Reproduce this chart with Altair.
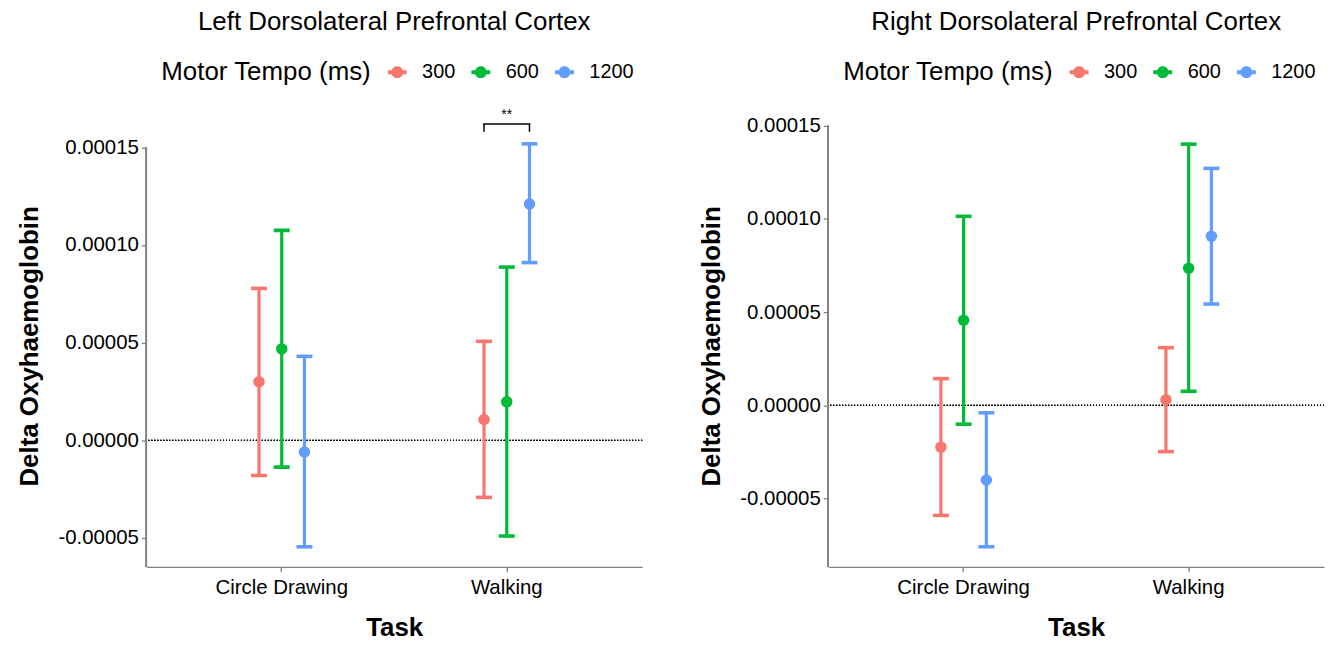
import altair as alt
import pandas as pd

tasks = ["Circle Drawing", "Walking"]
tempos = ["300", "600", "1200"]
colors = ["#F8766D", "#00BA38", "#619CFF"]

# order: task-major, tempo-minor
left_mean = [3.0e-5, 4.68e-5, -6.0e-6, 1.07e-5, 1.97e-5, 1.21e-4]
left_lo = [-1.8e-5, -1.37e-5, -5.45e-5, -2.92e-5, -4.9e-5, 9.1e-5]
left_hi = [7.78e-5, 1.075e-4, 4.3e-5, 5.07e-5, 8.87e-5, 1.518e-4]

right_mean = [-2.24e-5, 4.56e-5, -4.0e-5, 3.0e-6, 7.35e-5, 9.06e-5]
right_lo = [-5.9e-5, -1.01e-5, -7.58e-5, -2.48e-5, 7.5e-6, 5.43e-5]
right_hi = [1.43e-5, 1.013e-4, -4.0e-6, 3.09e-5, 1.40e-4, 1.27e-4]

y_ticks = [-0.00005, 0.0, 0.00005, 0.0001, 0.00015]
left_domain = [-6.48e-5, 1.615e-4]
right_domain = [-8.66e-5, 1.503e-4]

sig_task = "Walking"
sig_from, sig_mid, sig_to = "300", "600", "1200"
sig_top, sig_bottom = 1.62e-4, 1.58e-4
sig_label = "**"

FONT = "Liberation Sans"
AXIS_GREY = "#808080"
LEGEND_PATH = ("M-1,-0.21L-0.55,-0.21L-0.55,0.21L-1,0.21Z "
               "M0.55,-0.21L1,-0.21L1,0.21L0.55,0.21Z "
               "M0.63,0A0.63,0.63,0,1,1,-0.63,0A0.63,0.63,0,1,1,0.63,0Z")


def panel(title, mean, lo, hi, ydom, sig=False):
    rows = []
    i = 0
    for t in tasks:
        for tp in tempos:
            rows.append({"task": t, "tempo": tp, "mean": mean[i], "lo": lo[i], "hi": hi[i]})
            i += 1
    df = pd.DataFrame(rows)

    x = alt.X("task:N",
              scale=alt.Scale(domain=tasks, paddingInner=0.697, paddingOuter=0.45),
              axis=alt.Axis(title="Task", labelAngle=0, labelFontSize=20.5, labelColor="black",
                            titleFontSize=26, titleFontWeight="bold", titleColor="black",
                            titlePadding=16, domainColor=AXIS_GREY, domainWidth=1.3,
                            tickColor=AXIS_GREY, tickWidth=1.3, tickSize=5, labelPadding=6,
                            grid=False))
    xo = alt.XOffset("tempo:N", scale=alt.Scale(domain=tempos, paddingInner=0, paddingOuter=0))
    yscale = alt.Scale(domain=ydom, nice=False, zero=False)
    yaxis = alt.Axis(title="Delta Oxyhaemoglobin", values=y_ticks,
                     labelExpr="replace(format(datum.value, '.5f'), '\u2212', '-')",
                     labelFontSize=20.5, labelColor="black", titleFontSize=26,
                     titleFontWeight="bold", titleColor="black", titlePadding=15,
                     domain=False, tickColor=AXIS_GREY, tickWidth=1.3, tickSize=5,
                     labelPadding=3, grid=False)
    legend = alt.Legend(title="Motor Tempo (ms)", orient="none",
                        legendX=15, legendY=-63, direction="horizontal",
                        titleOrient="left", titleFontSize=26, titleLimit=400,
                        titleFontWeight="normal", titleColor="black",
                        titleBaseline="middle", titleAnchor="middle",
                        titlePadding=16,
                        labelFontSize=20, labelColor="black",
                        symbolType=LEGEND_PATH, symbolSize=361,
                        symbolStrokeWidth=0, symbolOpacity=1,
                        labelOffset=15, columnPadding=15)
    color = alt.Color("tempo:N", scale=alt.Scale(domain=tempos, range=colors), legend=legend)

    base = alt.Chart(df)
    axis_line = base.mark_rule(color=AXIS_GREY, strokeWidth=1.3).encode(
        x=alt.value(0),
        y=alt.datum(ydom[0], scale=yscale, axis=yaxis),
        y2=alt.datum(0.00015))
    zero = base.mark_rule(color="black", strokeWidth=1, strokeDash=[1, 2]).encode(
        y=alt.datum(0.0))
    bars = base.mark_rule(strokeWidth=3.2).encode(
        x=x, xOffset=xo,
        y=alt.Y("lo:Q", scale=yscale, axis=yaxis), y2="hi:Q", color=color)
    cap_hi = base.mark_tick(thickness=3.6, size=16, opacity=1).encode(
        x=x, xOffset=xo, y=alt.Y("hi:Q", scale=yscale, axis=yaxis), color=color)
    cap_lo = base.mark_tick(thickness=3.6, size=16, opacity=1).encode(
        x=x, xOffset=xo, y=alt.Y("lo:Q", scale=yscale, axis=yaxis), color=color)
    pts = base.mark_circle(size=133, opacity=1).encode(
        x=x, xOffset=xo, y=alt.Y("mean:Q", scale=yscale, axis=yaxis), color=color)

    layers = [axis_line, zero, bars, cap_hi, cap_lo, pts]
    if sig:
        legs = pd.DataFrame({"task": [sig_task, sig_task], "tempo": [sig_from, sig_to],
                             "y": [sig_bottom, sig_bottom], "y2": [sig_top, sig_top]})
        mid = pd.DataFrame({"task": [sig_task], "tempo": [sig_mid], "y": [sig_top],
                            "label": [sig_label]})
        layers.append(alt.Chart(legs).mark_rule(color="black", strokeWidth=1.5).encode(
            x=x, xOffset=xo, y=alt.Y("y:Q", scale=yscale, axis=yaxis), y2="y2:Q"))
        layers.append(alt.Chart(mid).mark_tick(color="black", thickness=1.5, size=47.5,
                                               opacity=1).encode(
            x=x, xOffset=xo, y=alt.Y("y:Q", scale=yscale, axis=yaxis)))
        layers.append(alt.Chart(mid).mark_text(color="black", fontSize=14, dy=-9,
                                               font=FONT).encode(
            x=x, xOffset=xo, y=alt.Y("y:Q", scale=yscale, axis=yaxis), text="label:N"))

    return alt.layer(*layers).properties(
        width=498, height=444,
        title=alt.TitleParams(title, fontSize=26, fontWeight="normal", color="black",
                              anchor="middle", font=FONT, offset=27))


left = panel("Left Dorsolateral Prefrontal Cortex", left_mean, left_lo, left_hi,
             left_domain, sig=True)
right = panel("Right Dorsolateral Prefrontal Cortex", right_mean, right_lo, right_hi,
              right_domain)

chart = alt.hconcat(left, right, spacing=56).resolve_scale(
    color="independent", y="independent", x="independent"
).resolve_legend(color="independent").properties(
    padding={"left": 9, "top": 0, "right": 0, "bottom": 0}
).configure(font=FONT).configure_view(stroke=None)

chart.save("out.html", embed_options={"renderer": "svg", "actions": False})
